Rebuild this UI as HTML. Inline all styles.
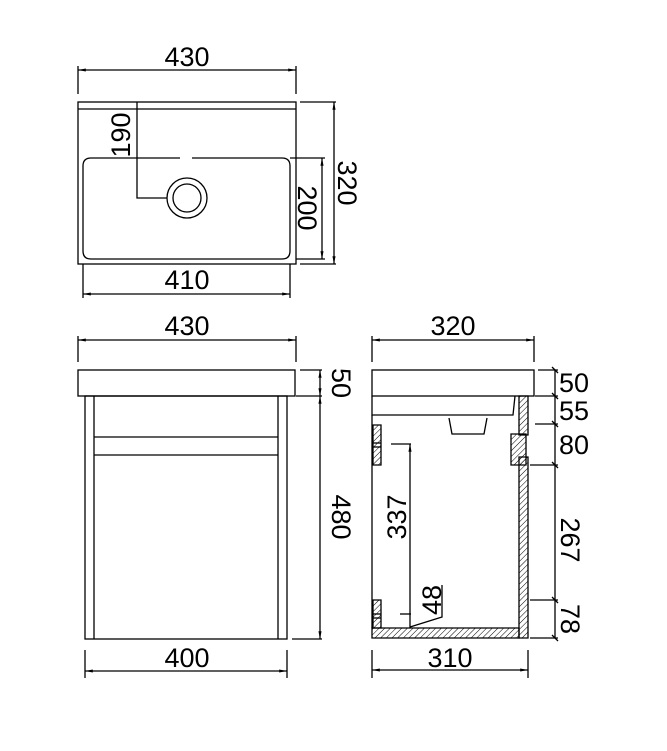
<!DOCTYPE html>
<html><head><style>body{margin:0;background:#fff}svg{display:block}text{font-family:"Liberation Sans",sans-serif;font-size:27px;fill:#000}</style></head><body>
<svg width="667" height="751" viewBox="0 0 667 751" xmlns="http://www.w3.org/2000/svg">
<defs>
<pattern id="h" width="4" height="4" patternUnits="userSpaceOnUse" patternTransform="rotate(45)"><line x1="0" y1="0" x2="0" y2="4" stroke="#000" stroke-width="1"/></pattern>
<marker id="a" viewBox="0 0 10 10" refX="10" refY="5" markerWidth="6" markerHeight="6" orient="auto-start-reverse"><path d="M0,3 L10,5 L0,7z" fill="#000"/></marker>
</defs>
<g stroke="#000" stroke-width="1.3" fill="none">
<line x1="78" y1="70" x2="296" y2="70" marker-start="url(#a)" marker-end="url(#a)"/>
<line x1="78" y1="66" x2="78" y2="94"/><line x1="296" y1="66" x2="296" y2="94"/>
<rect x="78" y="102" width="218" height="162"/>
<line x1="78" y1="109" x2="296" y2="109"/>
<path d="M180,158 H91 Q83,158 83,166 V251 Q83,259 91,259 H282 Q290,259 290,251 V166 Q290,158 282,158 H192"/>
<circle cx="187" cy="198" r="20"/><circle cx="187" cy="198" r="14"/>
<polyline points="137,102 137,198 167,198"/>
<line x1="83" y1="264" x2="83" y2="298"/><line x1="290" y1="264" x2="290" y2="298"/>
<line x1="83" y1="294" x2="290" y2="294" marker-start="url(#a)" marker-end="url(#a)"/>
<line x1="290" y1="158" x2="325" y2="158"/><line x1="296" y1="259" x2="325" y2="259"/>
<line x1="322" y1="158" x2="322" y2="259" marker-start="url(#a)" marker-end="url(#a)"/>
<line x1="300" y1="102" x2="336" y2="102"/><line x1="300" y1="264" x2="336" y2="264"/>
<line x1="334" y1="102" x2="334" y2="264" marker-start="url(#a)" marker-end="url(#a)"/>
<line x1="78" y1="340" x2="296" y2="340" marker-start="url(#a)" marker-end="url(#a)"/>
<line x1="78" y1="336" x2="78" y2="362"/><line x1="296" y1="336" x2="296" y2="362"/>
<rect x="78" y="370" width="217" height="26"/>
<rect x="85" y="396" width="202" height="243"/>
<line x1="94" y1="396" x2="94" y2="639"/><line x1="278" y1="396" x2="278" y2="639"/>
<line x1="94" y1="437" x2="278" y2="437"/><line x1="94" y1="455" x2="278" y2="455"/>
<line x1="85" y1="650" x2="85" y2="678"/><line x1="287" y1="650" x2="287" y2="678"/>
<line x1="85" y1="671" x2="287" y2="671" marker-start="url(#a)" marker-end="url(#a)"/>
<line x1="300" y1="370" x2="322" y2="370"/><line x1="296" y1="396" x2="322" y2="396"/><line x1="292" y1="639" x2="322" y2="639"/>
<line x1="320" y1="370" x2="320" y2="396" marker-start="url(#a)" marker-end="url(#a)"/>
<line x1="320" y1="396" x2="320" y2="639" marker-start="url(#a)" marker-end="url(#a)"/>
<line x1="372" y1="340" x2="534" y2="340" marker-start="url(#a)" marker-end="url(#a)"/>
<line x1="372" y1="336" x2="372" y2="362"/><line x1="534" y1="336" x2="534" y2="362"/>
<rect x="372" y="370" width="162" height="26"/>
<polyline points="372,396 372,415 513,415 515,396"/>
<polyline points="449,418 452,434 484,434 487,418"/>
<line x1="372" y1="415" x2="372" y2="628"/>
<path d="M519,396 H528 V435 H519 Z" fill="url(#h)"/>
<path d="M511,434 H526 V465 H511 Z" fill="url(#h)"/>
<path d="M519,457 H528 V638 H519 Z" fill="url(#h)"/>
<path d="M372,628 H519 V638 H372 Z" fill="url(#h)"/>
<path d="M373,425 H381 V465 H373 Z" fill="url(#h)"/><line x1="373" y1="443" x2="381" y2="443"/><line x1="373" y1="447" x2="381" y2="447"/>
<path d="M373,600 H381 V628 H373 Z" fill="url(#h)"/><line x1="373" y1="614" x2="381" y2="614"/><line x1="373" y1="618" x2="381" y2="618"/>
<line x1="391" y1="444" x2="411" y2="444"/><line x1="400" y1="614" x2="411" y2="614"/>
<line x1="410" y1="444" x2="410" y2="628" marker-start="url(#a)"/>
<polyline points="410,627 442,617 442,585"/>
<line x1="372" y1="650" x2="372" y2="678"/><line x1="528" y1="650" x2="528" y2="678"/>
<line x1="372" y1="670" x2="528" y2="670" marker-start="url(#a)" marker-end="url(#a)"/>
<line x1="538" y1="370" x2="558" y2="370"/><line x1="535" y1="396" x2="558" y2="396"/>
<line x1="535" y1="424" x2="558" y2="424"/><line x1="530" y1="465" x2="558" y2="465"/>
<line x1="530" y1="600" x2="558" y2="600"/><line x1="530" y1="638" x2="558" y2="638"/>
<line x1="555" y1="370" x2="555" y2="638"/>
</g>
<g stroke="#000" stroke-width="1.3">
<line x1="552" y1="367" x2="558" y2="373"/><line x1="552" y1="393" x2="558" y2="399"/><line x1="552" y1="421" x2="558" y2="427"/><line x1="552" y1="462" x2="558" y2="468"/><line x1="552" y1="597" x2="558" y2="603"/><line x1="552" y1="635" x2="558" y2="641"/>
</g>
<text x="187" y="66" text-anchor="middle">430</text>
<text x="187" y="289" text-anchor="middle">410</text>
<text x="187" y="335" text-anchor="middle">430</text>
<text x="187" y="667" text-anchor="middle">400</text>
<text x="453" y="335" text-anchor="middle">320</text>
<text x="450" y="667" text-anchor="middle">310</text>
<text x="559" y="392">50</text>
<text x="559" y="420">55</text>
<text x="559" y="454">80</text>
<text transform="translate(130,135) rotate(-90)" text-anchor="middle">190</text>
<text transform="translate(298,208) rotate(90)" text-anchor="middle">200</text>
<text transform="translate(338,183) rotate(90)" text-anchor="middle">320</text>
<text transform="translate(332,383) rotate(90)" text-anchor="middle">50</text>
<text transform="translate(332,517) rotate(90)" text-anchor="middle">480</text>
<text transform="translate(406,517) rotate(-90)" text-anchor="middle">337</text>
<text transform="translate(441,600) rotate(-90)" text-anchor="middle">48</text>
<text transform="translate(561,540) rotate(90)" text-anchor="middle">267</text>
<text transform="translate(561,619) rotate(90)" text-anchor="middle">78</text>
</svg>
</body></html>
